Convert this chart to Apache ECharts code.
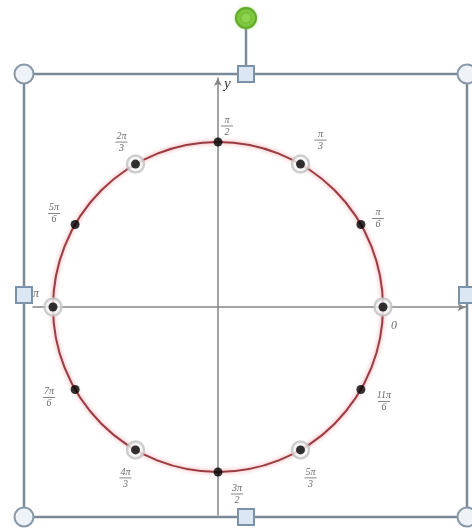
<!DOCTYPE html>
<html>
<head>
<meta charset="utf-8">
<script src="https://cdn.jsdelivr.net/npm/echarts@6/dist/echarts.min.js"></script>
<style>
  html, body { margin: 0; padding: 0; background: #fff; }
  #main { width: 472px; height: 530px; }
</style>
</head>
<body>
<div id="main"></div>
<script>
// unit circle angles (degrees) and their labels
const angleDeg = [0, 30, 60, 90, 120, 150, 180, 210, 240, 270, 300, 330]
const angleLabels = ['0', 'π/6', 'π/3', 'π/2', '2π/3', '5π/6', 'π', '7π/6', '4π/3', '3π/2', '5π/3', '11π/6']
const ringed = [true, false, true, false, true, false, true, false, true, false, true, false]
// label placement around each point (px)
const labelOffsets = [[11, 19], [17, -6], [20, -24], [9, -16], [-14, -22], [-21, -11],
  [-17, -13], [-26, 8], [-10, 28], [19, 22], [10, 28], [23, 12]]

const chartDom = document.getElementById('main')
const myChart = echarts.init(chartDom)

const fracText = (s) => {
  if (s.indexOf('/') < 0) return '{s|' + s + '}'
  const [n, d] = s.split('/')
  return '{n|' + n + '}\n{b| }\n{n|' + d + '}'
}

const pointData = angleDeg.map((a, i) => ({
  value: [1, a],
  label: { offset: labelOffsets[i], formatter: fracText(angleLabels[i]) },
}))
const ringData = angleDeg.filter((a, i) => ringed[i]).map((a) => [1, a])

const boxColor = '#7c8a98'
const handleCircle = (x, y) => ({
  type: 'circle', shape: { cx: x, cy: y, r: 9.5 }, z: 100,
  style: { fill: '#eef3f8', stroke: '#8898a7', lineWidth: 2 },
})
const handleSquare = (x, y) => ({
  type: 'rect', shape: { x: x - 8, y: y - 8, width: 16, height: 16 }, z: 100,
  style: { fill: '#dbe8f4', stroke: '#7a93ab', lineWidth: 2 },
})

const option = {
  animation: false,
  grid: { left: 33, top: 78, width: 432.5, height: 437 },
  xAxis: {
    type: 'value', min: -1.12, max: 1.5,
    axisLine: { onZero: true, symbol: ['none', 'arrow'], symbolSize: [6, 8], lineStyle: { color: '#858585', width: 1.5 } },
    axisTick: { show: false }, axisLabel: { show: false }, splitLine: { show: false },
  },
  yAxis: {
    type: 'value', min: -1.26, max: 1.39,
    name: 'y', nameGap: -14,
    nameTextStyle: { fontFamily: 'Liberation Serif', fontStyle: 'italic', fontSize: 15, color: '#333', align: 'left', padding: [0, 0, 0, 6] },
    axisLine: { onZero: true, symbol: ['none', 'arrow'], symbolSize: [6, 8], lineStyle: { color: '#858585', width: 1.5 } },
    axisTick: { show: false }, axisLabel: { show: false }, splitLine: { show: false },
  },
  polar: { center: [218, 307], radius: 165 },
  angleAxis: {
    type: 'value', min: 0, max: 360, startAngle: 0, clockwise: false,
    axisLine: { lineStyle: { color: '#9a3c42', width: 2, shadowColor: 'rgba(235,130,140,0.9)', shadowBlur: 4 } },
    axisTick: { show: false }, axisLabel: { show: false }, splitLine: { show: false },
  },
  radiusAxis: { type: 'value', min: 0, max: 1, show: false },
  series: [
    {
      type: 'scatter', coordinateSystem: 'polar', data: ringData,
      symbol: 'circle', symbolSize: 17, z: 3,
      itemStyle: { color: '#f6f6f6', borderColor: '#c2c2c2', borderWidth: 2.5 },
    },
    {
      type: 'scatter', coordinateSystem: 'polar', data: pointData,
      symbol: 'circle', symbolSize: 9, z: 4,
      itemStyle: { color: '#000' },
      label: {
        show: true, position: 'inside', align: 'center', verticalAlign: 'middle',
        fontFamily: 'Liberation Serif', color: '#444',
        rich: {
          n: { fontSize: 10, lineHeight: 9, fontStyle: 'italic', color: '#444', align: 'center' },
          s: { fontSize: 12, fontStyle: 'italic', color: '#444' },
          b: { width: 12, height: 1, lineHeight: 3, backgroundColor: '#666', fontSize: 1 },
        },
      },
    },
  ],
  graphic: [
    { type: 'line', shape: { x1: 246, y1: 28, x2: 246, y2: 66 }, z: 99, style: { stroke: boxColor, lineWidth: 2.5 } },
    { type: 'rect', shape: { x: 24, y: 74, width: 443, height: 443 }, z: 99, style: { fill: null, stroke: boxColor, lineWidth: 2.5 } },
    handleCircle(24, 74), handleCircle(467, 74), handleCircle(24, 517), handleCircle(467, 517),
    handleSquare(246, 74), handleSquare(24, 295), handleSquare(467, 295), handleSquare(246, 517),
    {
      type: 'circle', shape: { cx: 246, cy: 18, r: 10 }, z: 100,
      style: { fill: '#7fc83e', stroke: '#63a92c', lineWidth: 2, shadowColor: 'rgba(120,200,60,0.6)', shadowBlur: 3 },
    },
    {
      type: 'circle', shape: { cx: 246, cy: 18, r: 5 }, z: 101,
      style: { fill: '#8fd44e', stroke: '#72b83a', lineWidth: 1 },
    },
  ],
}

option && myChart.setOption(option)
</script>
</body>
</html>
